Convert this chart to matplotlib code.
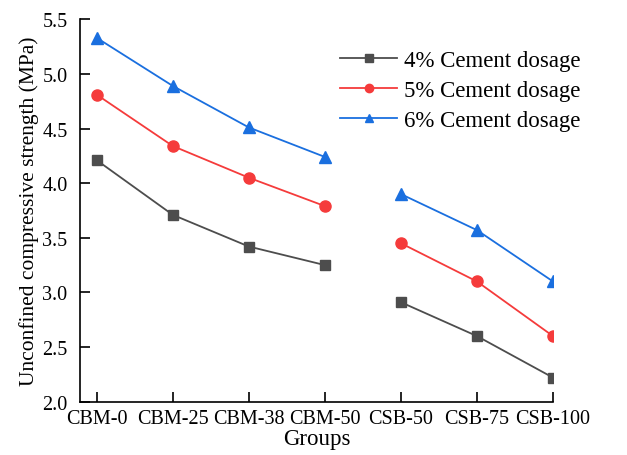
import numpy as np
import matplotlib.pyplot as plt

groups = ['CBM-0', 'CBM-25', 'CBM-38', 'CBM-50', 'CSB-50', 'CSB-75', 'CSB-100']
ucs_4 = [4.21, 3.71, 3.42, 3.25, 2.91, 2.60, 2.22]
ucs_5 = [4.81, 4.34, 4.05, 3.79, 3.45, 3.10, 2.60]
ucs_6 = [5.33, 4.89, 4.51, 4.24, 3.90, 3.57, 3.10]
labels = ['4% Cement dosage', '5% Cement dosage', '6% Cement dosage']

plt.rcParams['font.family'] = ['Liberation Serif', 'DejaVu Serif']

fig = plt.figure(figsize=(6.27, 4.56), dpi=100)
ax = fig.add_axes([0.1276, 0.117, 0.882 - 0.1276, 0.9555 - 0.117])

x = np.arange(len(groups))
series = [(ucs_4, '#4d4d4d', 's', 7), (ucs_5, '#f53b3b', 'o', 8), (ucs_6, '#1a6fdf', '^', 8.5)]
# CBM and CSB groups are drawn as separate line pieces
for (vals, col, mk, ms), lab in zip(series, labels):
    vals = np.array(vals)
    ax.plot(x[:4], vals[:4], color=col, marker=mk, ms=ms, lw=1.3, label=lab)
    ax.plot(x[4:], vals[4:], color=col, marker=mk, ms=ms, lw=1.3)

ax.set_xlim(-0.22, 6)
ax.set_ylim(2.0, 5.5)
ax.set_xticks(x)
ax.set_xticklabels(groups)
ax.set_yticks(np.arange(2.0, 5.51, 0.5))
ax.set_yticklabels([f'{v:.1f}' for v in np.arange(2.0, 5.51, 0.5)])
ax.tick_params(axis='both', direction='in', length=7, width=1.2, labelsize=14.5)
ax.tick_params(axis='x', pad=5)
ax.tick_params(axis='y', pad=9)
ax.spines['top'].set_visible(False)
ax.spines['right'].set_visible(False)
ax.spines['left'].set_linewidth(1.2)
ax.spines['bottom'].set_linewidth(1.2)

ax.set_xlabel('Groups', fontsize=16.5, labelpad=0)
ax.set_ylabel('Unconfined compressive strength (MPa)', fontsize=15.5, labelpad=2)

leg = ax.legend(loc='upper left', bbox_to_anchor=(0.55, 0.921), frameon=False,
                borderaxespad=0, borderpad=0,
                fontsize=16.5, handlelength=2.5, markerscale=0.75, labelspacing=0.4,
                handletextpad=0.3)

fig.savefig('out.png', dpi=100)
